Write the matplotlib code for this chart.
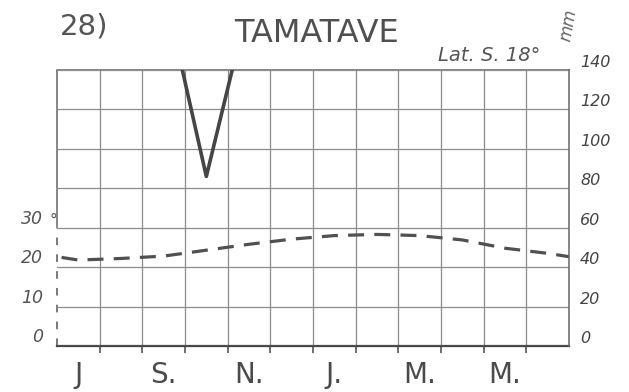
import matplotlib
matplotlib.use("Agg")
import matplotlib.pyplot as plt
import numpy as np

# climate data, July .. June
month_labels = ['J', '', 'S.', '', 'N.', '', 'J.', '', 'M.', '', 'M.', '']
temperature = [21.8, 22.2, 22.8, 24.3, 25.8, 27.1, 28.0, 28.3, 28.0, 26.9, 24.8, 23.5]
precipitation = [290, 220, 182, 86, 175, 280, 370, 380, 430, 390, 300, 300]
temp_ticks = [0, 10, 20, 30]
precip_ticks = [0, 20, 40, 60, 80, 100, 120, 140]

W, H = 629, 392
ink = '#4a4a4a'
grid_col = '#8c8c8c'

fig = plt.figure(figsize=(W / 100, H / 100), dpi=100)
ax_t = fig.add_axes([57 / W, 46 / H, 512 / W, 276 / H])
ax_p = ax_t.twinx()

n = len(temperature)
x = np.arange(n)
# wrap the annual cycle so the curves run to the frame edges
xw = np.arange(-1, n + 1)
temp_w = [temperature[-1]] + temperature + [temperature[0]]
prec_w = [precipitation[-1]] + precipitation + [precipitation[0]]

ax_t.set_xlim(-0.5, n - 0.5)
ax_t.set_ylim(0, 70)
ax_p.set_ylim(0, 140)

# grid
ax_t.set_xticks(x)
ax_t.set_xticklabels(month_labels, fontsize=20, color=ink)
ax_t.set_xticks(x[:-1] + 0.5, minor=True)
ax_t.tick_params(axis='x', which='major', length=0, pad=11)
ax_t.tick_params(axis='x', which='minor', direction='out', length=5, width=1.2, color='#555')
ax_t.grid(which='minor', axis='x', color=grid_col, lw=0.9)
ax_p.set_yticks(precip_ticks)
ax_p.grid(axis='y', color=grid_col, lw=0.9)

# left scale, temperature
ax_t.set_yticks(temp_ticks)
ax_t.set_yticklabels([str(t) for t in temp_ticks], fontsize=12.5, style='italic', color='#555')
ax_t.tick_params(axis='y', length=0, pad=10)
for lab in ax_t.get_yticklabels():
    lab.set_va('bottom')
ax_t.text(-0.5, temp_ticks[-1], '°', fontsize=11, color='#555', ha='right', va='bottom',
          transform=ax_t.transData)

# right scale, precipitation
ax_p.set_yticklabels([str(p) for p in precip_ticks], fontsize=11.5, style='italic', color='#444')
ax_p.tick_params(axis='y', length=0, pad=8)
for lab in ax_p.get_yticklabels():
    lab.set_va('bottom')

for sp in ['left', 'right']:
    ax_t.spines[sp].set_visible(False)
for sp in ['left', 'top', 'bottom']:
    ax_p.spines[sp].set_visible(False)
ax_t.spines['top'].set_color('#666')
ax_t.spines['top'].set_linewidth(1.1)
ax_p.spines['right'].set_color('#666')
ax_p.spines['right'].set_linewidth(1.1)
ax_t.spines['bottom'].set_color('#444')
ax_t.spines['bottom'].set_linewidth(1.6)

# left frame: solid above 30 deg, dashed below
ax_t.vlines(-0.5, temp_ticks[-1], 70, color='#666', lw=1.1, clip_on=False)
ax_t.vlines(-0.5, 0, temp_ticks[-1], color='#555', lw=1.1, linestyles=(0, (5, 6)), clip_on=False)

# curves
ax_t.plot(xw, temp_w, color='#505050', lw=2.3, dashes=(5, 3.2), zorder=5)
ax_p.plot(xw, prec_w, color='#454545', lw=2.6, solid_joinstyle='round', zorder=5)

# titles
fig.text(60 / W, 1 - 26 / H, '28)', fontsize=21, color='#555', ha='left', va='center')
fig.text(317 / W, 1 - 34 / H, 'TAMATAVE', fontsize=23, color='#505050', ha='center', va='center')
fig.text(438 / W, 1 - 61 / H, 'Lat. S. 18°', fontsize=14, style='italic', color='#555',
         ha='left', va='baseline')
fig.text(568 / W, 1 - 25 / H, 'mm', fontsize=12, style='italic', color='#666',
         rotation=80, ha='center', va='center')

fig.savefig('out.png', dpi=100, facecolor='white')
